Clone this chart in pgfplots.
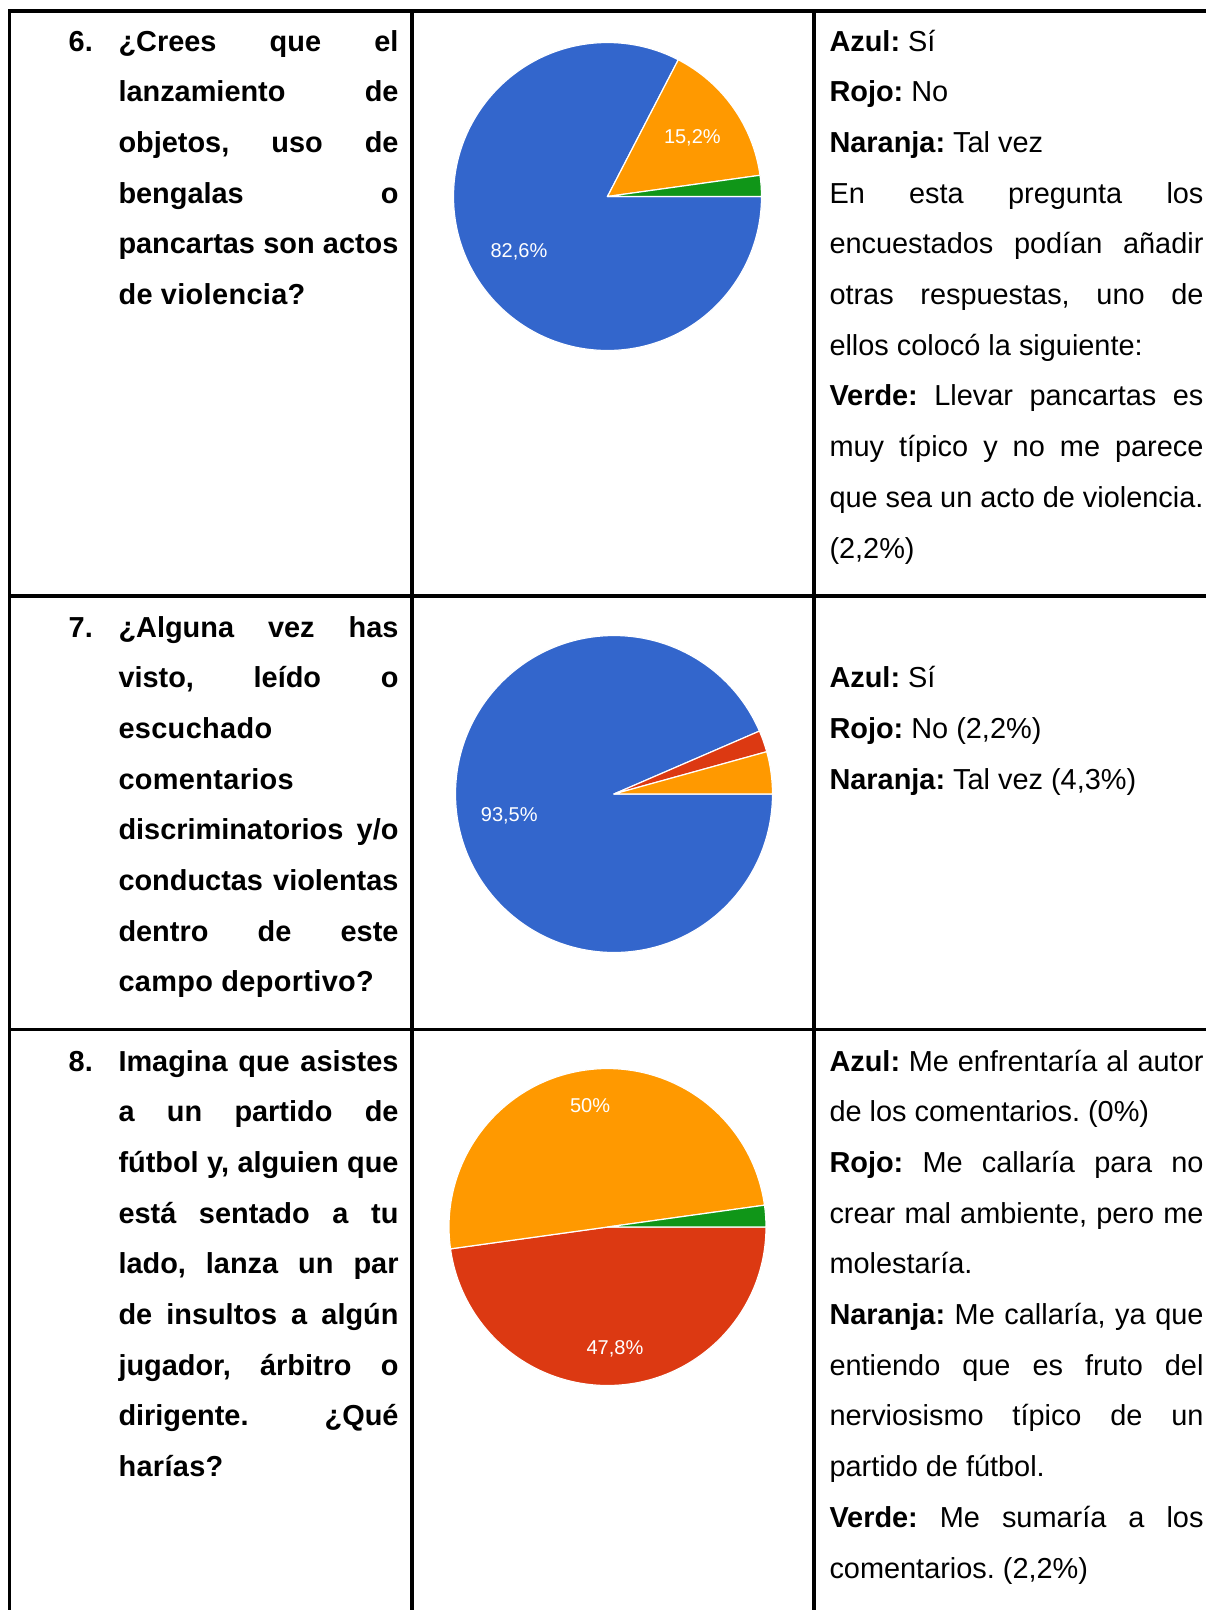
\documentclass[border=0pt]{standalone}
\usepackage{pgfplots}
\pgfplotsset{compat=1.18}
\usepackage{fontspec}
\setmainfont{Liberation Sans}
\definecolor{gblue}{HTML}{3366CC}
\definecolor{gred}{HTML}{DC3912}
\definecolor{gorange}{HTML}{FF9900}
\definecolor{ggreen}{HTML}{109618}

% slice: colour, from percent, to percent, radius (pt); clockwise from 3 o'clock
\newcommand{\slice}[4]{%
  \filldraw[fill=#1, draw=white, line width=1.2pt, line join=round]
    (axis cs:0,0) -- (axis cs:{cos(-3.6*#2)},{sin(-3.6*#2)})
    arc[start angle={-3.6*#2}, end angle={-3.6*#3}, radius=#4pt] -- cycle;}
\newcommand{\pielabel}[3]{%
  \node[white, inner sep=0pt, font=\fontsize{20}{21}\selectfont] at (axis cs:#1,#2) {#3};}

\newcommand{\jl}[4]{\node[anchor=base west, inner sep=0pt] at (#1pt,-#2pt) {\makebox[#3pt][s]{#4}};}
\newcommand{\pl}[3]{\node[anchor=base west, inner sep=0pt] at (#1pt,-#2pt) {#3};}

\begin{document}
\frenchspacing
\begin{tikzpicture}[font=\fontsize{28.9}{34}\selectfont]
\path[use as bounding box] (0pt,0pt) rectangle (1206pt,-1610pt);

% table rules
\fill[black] (7.9pt,-9.4pt) rectangle (1206pt,-12.6pt);
\fill[black] (7.9pt,-9.4pt) rectangle (11.1pt,-1610pt);
\fill[black] (410.4pt,-9.4pt) rectangle (413.6pt,-1610pt);
\fill[black] (812.4pt,-9.4pt) rectangle (815.6pt,-1610pt);
\fill[black] (7.9pt,-594.4pt) rectangle (1206pt,-597.6pt);
\fill[black] (7.9pt,-1028pt) rectangle (1206pt,-1031.2pt);

% ---------- pie 6 ----------
\begin{axis}[at={(607.5pt,-196.5pt)}, anchor=center, width=308pt, height=308pt,
  scale only axis, xmin=-1, xmax=1, ymin=-1, ymax=1, hide axis, clip=false]
\slice{gblue}{0}{82.6}{154}
\slice{gorange}{82.6}{97.8}{154}
\slice{ggreen}{97.8}{100}{154}
\pielabel{0.551}{0.384}{15,2\%}
\pielabel{-0.575}{-0.362}{82,6\%}
\end{axis}

% ---------- pie 7 ----------
\begin{axis}[at={(614pt,-794pt)}, anchor=center, width=317pt, height=317pt,
  scale only axis, xmin=-1, xmax=1, ymin=-1, ymax=1, hide axis, clip=false]
\slice{gblue}{0}{93.5}{158.5}
\slice{gred}{93.5}{95.7}{158.5}
\slice{gorange}{95.7}{100}{158.5}
\pielabel{-0.661}{-0.137}{93,5\%}
\end{axis}

% ---------- pie 8 ----------
\begin{axis}[at={(607.5pt,-1227pt)}, anchor=center, width=317pt, height=317pt,
  scale only axis, xmin=-1, xmax=1, ymin=-1, ymax=1, hide axis, clip=false]
\slice{gred}{0}{47.8}{158.5}
\slice{gorange}{47.8}{97.8}{158.5}
\slice{ggreen}{97.8}{100}{158.5}
\pielabel{-0.110}{0.765}{50\%}
\pielabel{0.047}{-0.770}{47,8\%}
\end{axis}

% ---------- left column ----------
\begin{scope}[font=\fontsize{28.9}{34}\selectfont\bfseries]
\pl{68.5}{51}{6.}
\jl{118.3}{51}{280}{¿Crees que el}
\jl{118.3}{101.7}{280}{lanzamiento de}
\jl{118.3}{152.4}{280}{objetos, uso de}
\jl{118.3}{203.1}{280}{bengalas o}
\jl{118.3}{253.8}{280}{pancartas son actos}
\pl{118.3}{304.5}{\addfontfeature{LetterSpace=1.2}de violencia?}

\pl{68.5}{637}{7.}
\jl{118.3}{637}{280}{¿Alguna vez has}
\jl{118.3}{687.7}{280}{visto, leído o}
\pl{118.3}{738.4}{\addfontfeature{LetterSpace=1.2}escuchado}
\pl{118.3}{789.1}{\addfontfeature{LetterSpace=1.2}comentarios}
\jl{118.3}{839.8}{280}{discriminatorios y/o}
\jl{118.3}{890.5}{280}{conductas violentas}
\jl{118.3}{941.2}{280}{dentro de este}
\pl{118.3}{991.9}{\addfontfeature{LetterSpace=1.2}campo deportivo?}

\pl{68.5}{1071}{8.}
\jl{118.3}{1071}{280}{Imagina que asistes}
\jl{118.3}{1121.7}{280}{a un partido de}
\jl{118.3}{1172.4}{280}{fútbol y, alguien que}
\jl{118.3}{1223.1}{280}{está sentado a tu}
\jl{118.3}{1273.8}{280}{lado, lanza un par}
\jl{118.3}{1324.5}{280}{de insultos a algún}
\jl{118.3}{1375.2}{280}{jugador, árbitro o}
\jl{118.3}{1425.9}{280}{dirigente. ¿Qué}
\pl{118.3}{1476.6}{\addfontfeature{LetterSpace=1.2}harías?}
\end{scope}

% ---------- right column ----------
\pl{829.3}{51}{\textbf{Azul:} Sí}
\pl{829.3}{101.7}{\textbf{Rojo:} No}
\pl{829.3}{152.4}{\textbf{Naranja:} Tal vez}
\jl{829.3}{203.1}{374}{En esta pregunta los}
\jl{829.3}{253.8}{374}{encuestados podían añadir}
\jl{829.3}{304.5}{374}{otras respuestas, uno de}
\pl{829.3}{355.2}{ellos colocó la siguiente:}
\jl{829.3}{405.9}{374}{\textbf{Verde:} Llevar pancartas es}
\jl{829.3}{456.6}{374}{muy típico y no me parece}
\jl{829.3}{507.3}{374}{que sea un acto de violencia.}
\pl{829.3}{558}{(2,2\%)}

\pl{829.3}{687.7}{\textbf{Azul:} Sí}
\pl{829.3}{738.4}{\textbf{Rojo:} No (2,2\%)}
\pl{829.3}{789.1}{\textbf{Naranja:} Tal vez (4,3\%)}

\jl{829.3}{1071}{374}{\textbf{Azul:} Me enfrentaría al autor}
\pl{829.3}{1121.7}{de los comentarios. (0\%)}
\jl{829.3}{1172.4}{374}{\textbf{Rojo:} Me callaría para no}
\jl{829.3}{1223.1}{374}{crear mal ambiente, pero me}
\pl{829.3}{1273.8}{molestaría.}
\jl{829.3}{1324.5}{374}{\textbf{Naranja:} Me callaría, ya que}
\jl{829.3}{1375.2}{374}{entiendo que es fruto del}
\jl{829.3}{1425.9}{374}{nerviosismo típico de un}
\pl{829.3}{1476.6}{partido de fútbol.}
\jl{829.3}{1527.3}{374}{\textbf{Verde:} Me sumaría a los}
\pl{829.3}{1578}{comentarios. (2,2\%)}
\end{tikzpicture}
\end{document}
